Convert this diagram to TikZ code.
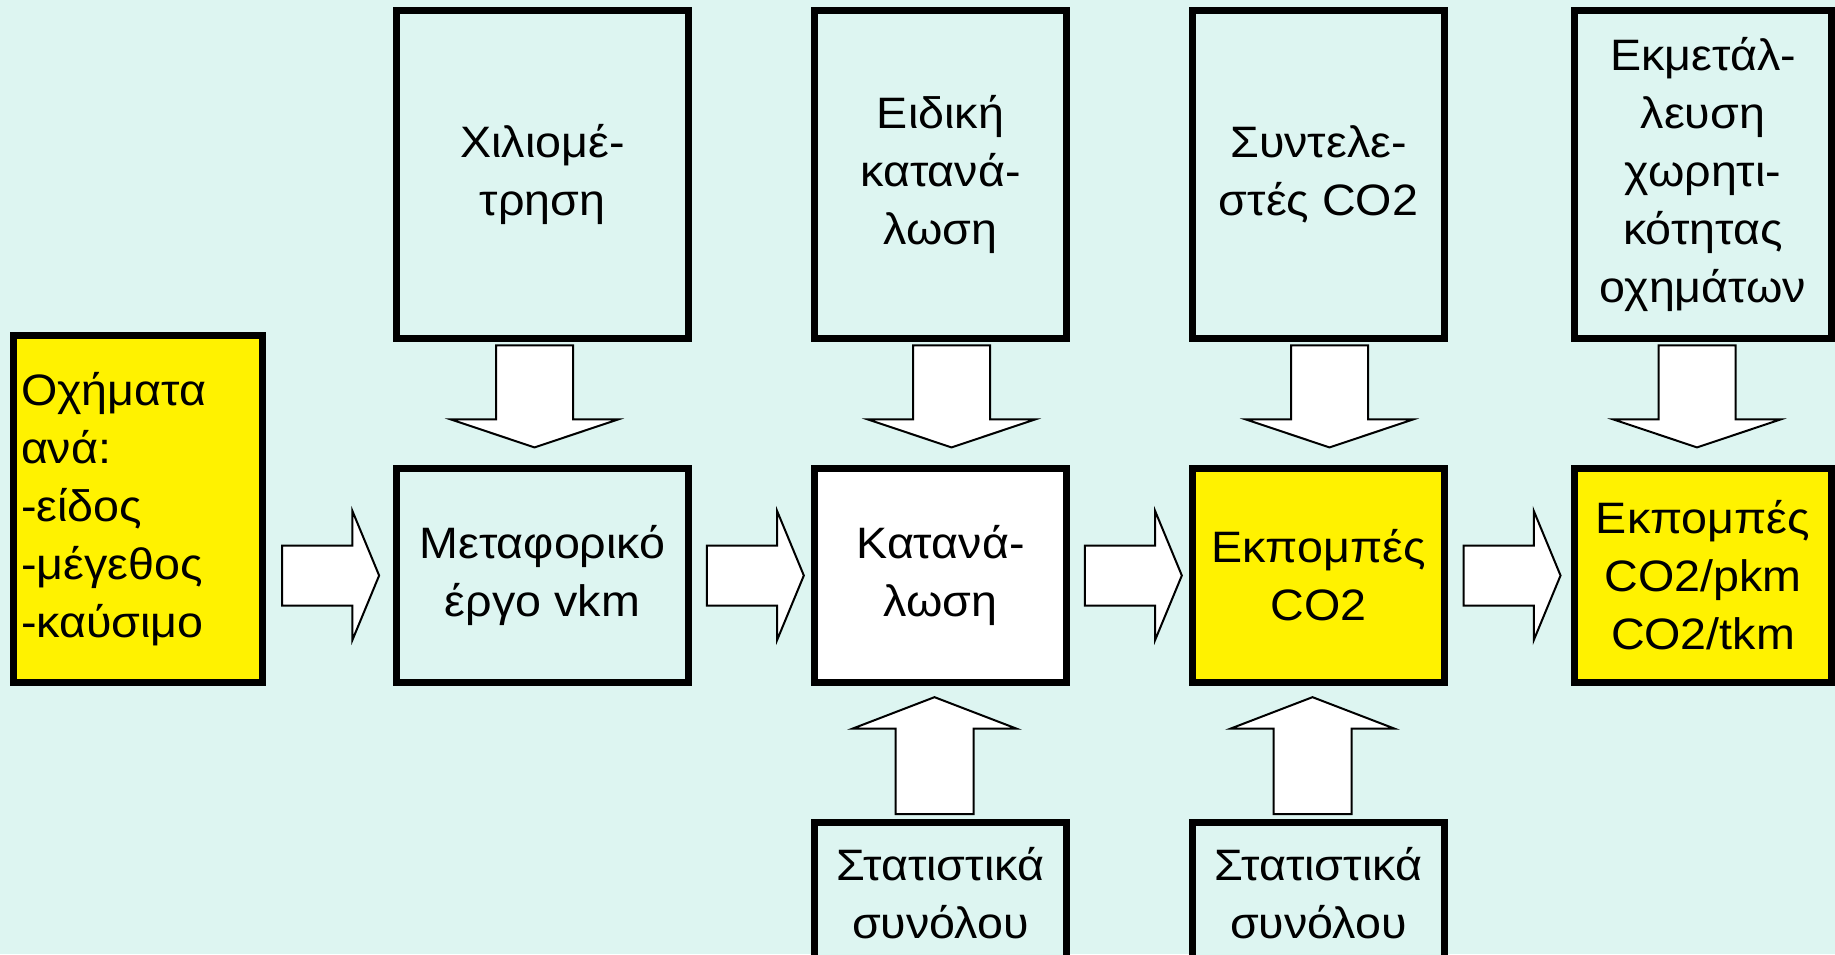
\documentclass[tikz,border=0pt]{standalone}
\usepackage{fontspec}
\setmainfont{Liberation Sans}[FakeStretch=1.06]
\usetikzlibrary{shapes.arrows}
\definecolor{bgcyan}{RGB}{221,245,241}

\begin{document}
\begin{tikzpicture}[x=0.5pt,y=-0.5pt,
  box/.style={draw, line width=3.5pt, fill=bgcyan, align=center, inner sep=0pt, font=\fontsize{22}{29}\selectfont},
  topbox/.style={box, minimum height=164pt},
  midbox/.style={box, minimum height=107pt},
  botbox/.style={box, minimum height=70.5pt},
  blockarrow/.style={single arrow, draw, line width=1pt, fill=white, sloped, allow upside down,
    inner xsep=0pt, text height=0pt, text depth=0pt, minimum width=0pt},
  harrow/.style={blockarrow, minimum height=48.5pt, inner ysep=14.5pt, single arrow head extend=17.25pt, single arrow tip angle=135},
  darrow/.style={blockarrow, minimum height=51pt, inner ysep=18.75pt, single arrow head extend=22.5pt, single arrow tip angle=143},
  uarrow/.style={blockarrow, minimum height=58.5pt, inner ysep=19pt, single arrow head extend=21.5pt, single arrow tip angle=138}]
  \fill[bgcyan] (0,0) rectangle (1835,954);
  \useasboundingbox (0,0) rectangle (1835,954);

  \node[box, fill=yellow, align=left, text width=117pt, inner xsep=3.75pt, minimum height=173.5pt] (veh) at (138,509) {Οχήματα\\ανά:\\-είδος\\-μέγεθος\\-καύσιμο};

  \node[topbox, minimum width=146pt] (odo) at (542.5,174.5) {Χιλιομέ-\\τρηση};
  \node[topbox, minimum width=126pt] (sfc) at (940.5,174.5) {Ειδική\\κατανά-\\λωση};
  \node[topbox, minimum width=126pt] (fact) at (1318.5,174.5) {Συντελε-\\στές CO2};
  \node[topbox, minimum width=128.5pt] (load) at (1703,174.5) {Εκμετάλ-\\λευση\\χωρητι-\\κότητας\\οχημάτων};

  \node[midbox, minimum width=146pt] (work) at (542.5,575.5) {Μεταφορικό\\έργο vkm};
  \node[midbox, minimum width=126pt, fill=white] (cons) at (940.5,575.5) {Κατανά-\\λωση};
  \node[midbox, minimum width=126pt, fill=yellow] (emis) at (1318.5,575.5) {Εκπομπές\\CO2};
  \node[midbox, minimum width=128.5pt, fill=yellow] (spec) at (1703,575.5) {Εκπομπές\\CO2/pkm\\CO2/tkm};

  \node[botbox, minimum width=126pt] (statA) at (940.5,893) {Στατιστικά\\συνόλου};
  \node[botbox, minimum width=126pt] (statB) at (1318.5,893) {Στατιστικά\\συνόλου};

  \path (work.west -| veh.east) -- node[harrow, pos=0.46]{} (work.west);
  \path (work) -- node[harrow, pos=0.48]{} (cons);
  \path (cons) -- node[harrow, pos=0.48]{} (emis);
  \path (emis) -- node[harrow, pos=0.47]{} (spec);

  \path ([xshift=-4pt]odo.south) -- node[darrow, pos=0.39]{} ([xshift=-4pt]work.north);
  \path ([xshift=5.5pt]sfc.south) -- node[darrow, pos=0.39]{} ([xshift=5.5pt]cons.north);
  \path ([xshift=5.5pt]fact.south) -- node[darrow, pos=0.39]{} ([xshift=5.5pt]emis.north);
  \path ([xshift=-3pt]load.south) -- node[darrow, pos=0.39]{} ([xshift=-3pt]spec.north);

  \path ([xshift=-3pt]statA.north) -- node[uarrow, pos=0.42]{} ([xshift=-3pt]cons.south);
  \path ([xshift=-3pt]statB.north) -- node[uarrow, pos=0.42]{} ([xshift=-3pt]emis.south);
\end{tikzpicture}
\end{document}
